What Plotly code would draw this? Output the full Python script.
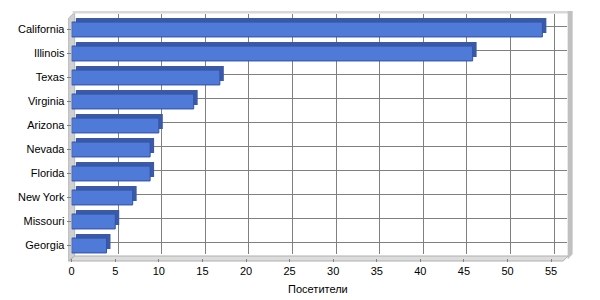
import plotly.graph_objects as go

states = ["California", "Illinois", "Texas", "Virginia", "Arizona",
          "Nevada", "Florida", "New York", "Missouri", "Georgia"]
visitors = [54, 46, 17, 14, 10, 9, 9, 7, 5, 4]
x_ticks = [0, 5, 10, 15, 20, 25, 30, 35, 40, 45, 50, 55]
x_title = "Посетители"

W, H = 600, 300
XMAX = 56.5


def fx(px):
    return px / W


def fy(py):
    return 1 - py / H


def dom_x(left):
    return [fx(left), fx(left + 495)]


def dom_y(top):
    return [fy(top + 240), fy(top)]


idx = list(range(len(states)))
font = dict(family="Liberation Sans, Arial, sans-serif", size=11, color="black")

fig = go.Figure()

# empty trace so the back-wall subplot (grid) is created
fig.add_trace(go.Scatter(x=[None], y=[None], mode="markers",
                         xaxis="x", yaxis="y", hoverinfo="skip", showlegend=False))

# depth (side/top faces) of bars
fig.add_trace(go.Bar(
    x=visitors, y=idx, orientation="h", width=0.62,
    marker=dict(color="#3a5aa8", line=dict(width=0)),
    xaxis="x2", yaxis="y2", hoverinfo="skip", showlegend=False))

# front faces of bars
fig.add_trace(go.Bar(
    x=visitors, y=idx, orientation="h", width=0.62,
    marker=dict(color="#4f7ad8", line=dict(color="#3453a6", width=1)),
    xaxis="x3", yaxis="y3", showlegend=False))

shapes = []
# left wall
shapes.append(dict(type="path", xref="paper", yref="paper", layer="below",
                   path=f"M {fx(66)} {fy(18)} L {fx(72)} {fy(12.5)} L {fx(72)} {fy(256)} L {fx(66)} {fy(261)} Z",
                   fillcolor="#d0d0d0", line=dict(color="#b8b8b8", width=1)))
# floor
shapes.append(dict(type="path", xref="paper", yref="paper", layer="below",
                   path=f"M {fx(66)} {fy(261)} L {fx(72)} {fy(256)} L {fx(568)} {fy(256)} L {fx(563)} {fy(261)} Z",
                   fillcolor="#dcdcdc", line=dict(color="#b0b0b0", width=1)))
# top edge of back wall
shapes.append(dict(type="rect", xref="paper", yref="paper", layer="below",
                   x0=fx(70), x1=fx(572), y0=fy(13.5), y1=fy(11),
                   fillcolor="#d8d8d8", line=dict(width=0)))
# right edge of back wall
shapes.append(dict(type="path", xref="paper", yref="paper", layer="below",
                   path=f"M {fx(567.5)} {fy(11)} L {fx(572.5)} {fy(11)} L {fx(572.5)} {fy(254)} L {fx(568)} {fy(259)} L {fx(567.5)} {fy(259)} Z",
                   fillcolor="#c0c0c0", line=dict(width=0)))

fig.update_layout(
    width=W, height=H,
    margin=dict(l=0, r=0, t=0, b=0),
    paper_bgcolor="white", plot_bgcolor="rgba(0,0,0,0)",
    font=font,
    shapes=shapes,
    # back wall grid
    xaxis=dict(domain=dom_x(72), range=[0, XMAX], tickvals=x_ticks,
               showgrid=True, gridcolor="#808080", gridwidth=1,
               showticklabels=False, ticks="", zeroline=False, showline=False,
               anchor="y"),
    yaxis=dict(domain=dom_y(14), range=[9.5, -0.5], tickvals=idx,
               showgrid=True, gridcolor="#808080", gridwidth=1,
               showticklabels=False, ticks="", zeroline=False, showline=False,
               anchor="x"),
    # depth layer
    xaxis2=dict(domain=dom_x(73), range=[0, XMAX], visible=False, anchor="y2"),
    yaxis2=dict(domain=dom_y(13.5), range=[9.5, -0.5], visible=False, anchor="x2"),
    # front layer
    xaxis3=dict(domain=dom_x(69), range=[0, XMAX], tickvals=x_ticks,
                showgrid=False, zeroline=False, showline=False,
                ticks="outside", ticklen=3, tickcolor="#808080",
                tickfont=font, anchor="y3",
                title=dict(text=x_title, font=font, standoff=9)),
    yaxis3=dict(domain=dom_y(17.5), range=[9.5, -0.5], tickvals=idx,
                ticktext=states, showgrid=False, zeroline=False, showline=False,
                ticks="outside", ticklen=4, tickcolor="#808080",
                tickfont=font, anchor="x3"),
)

fig.write_html("out.html")
